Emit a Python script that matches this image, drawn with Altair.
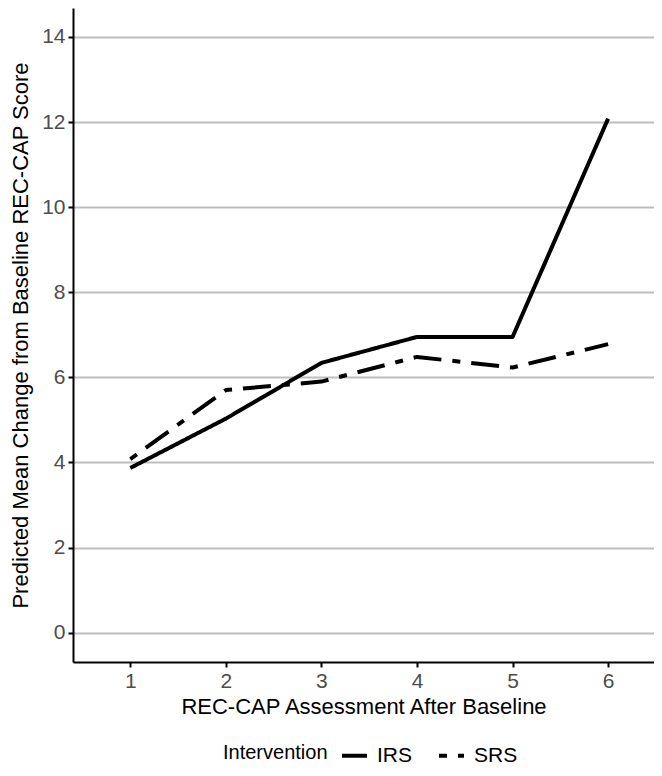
import altair as alt
import pandas as pd

assessments = [1, 2, 3, 4, 5, 6]
irs_values = [3.87, 5.03, 6.34, 6.95, 6.95, 12.08]
srs_values = [4.08, 5.70, 5.90, 6.48, 6.23, 6.78]
groups = ["IRS", "SRS"]
y_ticks = [0, 2, 4, 6, 8, 10, 12, 14]

rows = []
for a, v in zip(assessments, irs_values):
    rows.append({"Assessment": a, "Change": v, "Intervention": "IRS"})
for a, v in zip(assessments, srs_values):
    rows.append({"Assessment": a, "Change": v, "Intervention": "SRS"})
df = pd.DataFrame(rows)

FONT = "Liberation Sans"

chart = alt.Chart(df).mark_line(
    color="black", strokeWidth=4, strokeCap="butt", strokeJoin="round"
).encode(
    x=alt.X(
        "Assessment:Q",
        scale=alt.Scale(domain=[0.4, 6.48], nice=False, zero=False),
        axis=alt.Axis(
            values=assessments,
            title="REC-CAP Assessment After Baseline",
            grid=False,
            format="d",
        ),
    ),
    y=alt.Y(
        "Change:Q",
        scale=alt.Scale(domain=[-0.69, 14.68], nice=False, zero=False),
        axis=alt.Axis(
            values=y_ticks,
            title="Predicted Mean Change from Baseline REC-CAP Score",
            grid=True,
        ),
    ),
    strokeDash=alt.StrokeDash(
        "Intervention:N",
        scale=alt.Scale(domain=groups, range=[[1, 0], [8, 11, 28, 11]]),
        legend=alt.Legend(
            orient="none",
            legendX=150,
            legendY=733,
            direction="horizontal",
            titleOrient="left",
            title="Intervention",
            symbolType="stroke",
            symbolSize=625,
            symbolStrokeWidth=4,
            symbolStrokeColor="black",
            symbolDash=[6, 7],
            titleFont=FONT,
            titleFontSize=20,
            titleFontWeight="normal",
            titleColor="black",
            labelFont=FONT,
            labelFontSize=21,
            labelColor="black",
            columnPadding=18,
            titlePadding=12,
            labelOffset=8,
            symbolOffset=0,
        ),
    ),
    order="Assessment:Q",
).properties(
    width=581,
    height=654,
    autosize=alt.AutoSizeParams(type="none"),
    padding={"left": 65, "top": 0, "right": 0, "bottom": 106},
).configure_view(
    stroke=None
).configure_axis(
    domainColor="black",
    domainWidth=2,
    tickColor="black",
    tickWidth=2,
    tickSize=5,
    labelFont=FONT,
    labelFontSize=21,
    labelColor="#4D4D4D",
    labelPadding=3,
    titleFont=FONT,
    titleFontSize=22,
    titleFontWeight="normal",
    titleColor="black",
    gridColor="#BDBDBD",
    gridWidth=2,
).configure_axisX(
    titlePadding=5,
).configure_axisY(
    titlePadding=9,
)

chart.save("out.html", embed_options={"renderer": "svg", "actions": False})
